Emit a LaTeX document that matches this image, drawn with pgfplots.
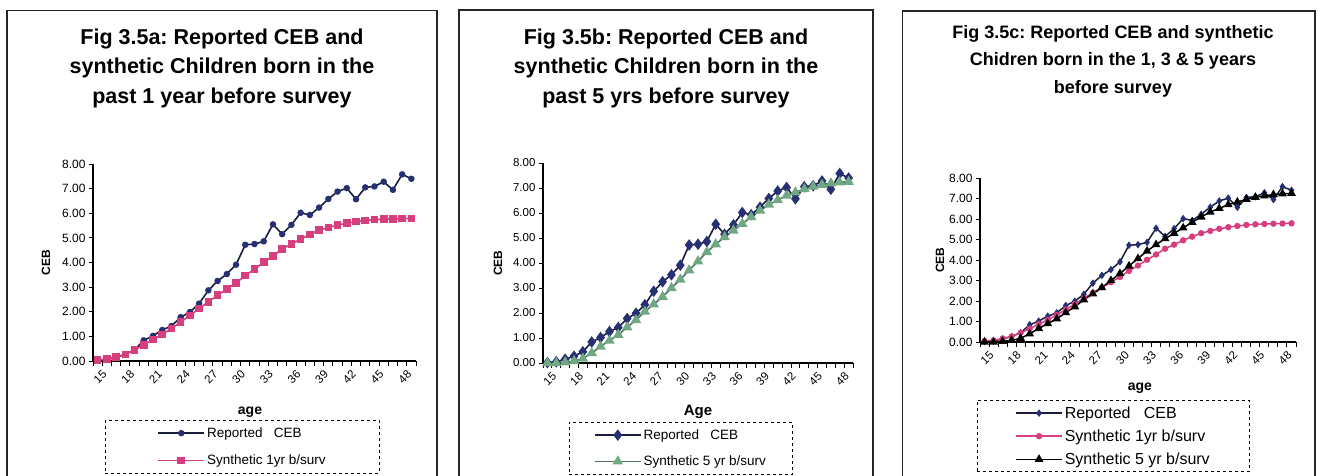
\documentclass[border=0pt]{standalone}
\usepackage{fontspec}
\setmainfont{Liberation Sans}
\usepackage{pgfplots}
\usepackage{pgfplotstable}
\pgfplotsset{compat=1.18}
\definecolor{navyc}{RGB}{38,48,115}
\definecolor{linec}{RGB}{25,30,60}
\definecolor{pinkc}{RGB}{214,62,125}
\definecolor{greenc}{RGB}{112,168,132}
\definecolor{greenl}{RGB}{85,115,100}

\pgfplotstableread{
age rep s1 s5
15 0.02 0.05 0.00
16 0.05 0.08 0.00
17 0.15 0.17 0.03
18 0.27 0.27 0.08
19 0.45 0.45 0.18
20 0.84 0.65 0.40
21 1.02 0.87 0.66
22 1.26 1.08 0.90
23 1.42 1.32 1.13
24 1.78 1.58 1.43
25 1.99 1.85 1.72
26 2.33 2.13 2.06
27 2.87 2.40 2.35
28 3.25 2.67 2.65
29 3.53 2.92 3.00
30 3.91 3.17 3.34
31 4.72 3.47 3.71
32 4.75 3.73 4.07
33 4.86 4.01 4.44
34 5.55 4.27 4.75
35 5.15 4.55 5.04
36 5.53 4.75 5.30
37 6.02 4.96 5.57
38 5.93 5.14 5.84
39 6.23 5.31 6.10
40 6.58 5.42 6.34
41 6.88 5.52 6.52
42 7.02 5.60 6.70
43 6.57 5.66 6.83
44 7.05 5.71 6.96
45 7.09 5.74 7.06
46 7.28 5.76 7.13
47 6.95 5.77 7.19
48 7.58 5.78 7.23
49 7.40 5.79 7.25
}\cebdata

\pgfplotsset{
  /pgf/number format/assume math mode=true,
  cebaxis/.style={
    scale only axis, anchor=south west,
    xmin=14.5, xmax=49.5, ymin=0, ymax=8,
    axis lines=left, axis line style={-, line width=1.1pt},
    xtick={15,18,...,48},
    major x tick style={draw=none},
    minor xtick={14.5,15.5,...,49.5},
    minor tick length=5pt,
    major tick length=4pt,
    tick align=outside,
    tick style={line width=1pt, black},
    ytick={0,1,...,8},
    yticklabel style={/pgf/number format/fixed, /pgf/number format/fixed zerofill, /pgf/number format/precision=2, font=\fontsize{12}{12}\selectfont},
    xticklabel style={rotate=45, anchor=north east, inner sep=1pt, yshift=-5pt, xshift=1pt, font=\fontsize{11.5}{11.5}\selectfont},
    legend cell align=left,
    legend image code/.code={\draw[mark repeat=2,mark phase=2] plot coordinates {(0pt,0pt) (23pt,0pt) (46pt,0pt)};},
  }
}

\begin{document}
\frenchspacing
\begin{tikzpicture}[x=1pt,y=1pt]
\useasboundingbox (0,0) rectangle (1320,475);
\draw[line width=1.1pt, black!85] (7,-5) -- (7,464.5) -- (437,464.5) -- (437,-5);
\draw[line width=1.1pt, black!85] (459,-5) -- (459,465) -- (873,465) -- (873,-5);
\draw[line width=1.1pt, black!85] (902.5,-5) -- (902.5,464) -- (1315,464) -- (1315,-5);

\node[font=\bfseries\fontsize{21.5}{29.5}\selectfont, align=center] at (222,407) {Fig 3.5a: Reported CEB and\\synthetic Children born in the\\past 1 year before survey};
\node[font=\bfseries\fontsize{21.5}{29.5}\selectfont, align=center] at (666,407) {Fig 3.5b: Reported CEB and\\synthetic Children born in the\\past 5 yrs before survey};
\node[font=\bfseries\fontsize{18}{27.5}\selectfont, align=center] at (1113,414) {Fig 3.5c: Reported CEB and synthetic\\Chidren born in the 1, 3 \& 5 years\\before survey};

% Panel a
\begin{axis}[cebaxis, at={(93pt,114pt)}, width=323pt, height=197pt,
  ylabel={CEB}, xlabel={age},
  ylabel style={at={(axis description cs:-0.1455,0.5)}, anchor=center, font=\bfseries\fontsize{12}{12}\selectfont},
  xlabel style={at={(axis description cs:0.486,-0.26)}, anchor=center, font=\bfseries\fontsize{14}{14}\selectfont},
  legend style={at={(axis description cs:0.463,-0.2995)}, anchor=north, draw=black, dashed, line width=1pt,
    inner xsep=52pt, inner ysep=5pt, row sep=12pt, font=\fontsize{13.5}{13.5}\selectfont},
]
\addplot[solid, color=linec, line width=1.6pt, mark=*, mark size=2.4pt, mark options={fill=navyc, draw=navyc}] table[x=age,y=rep] {\cebdata};
\addplot[solid, color=pinkc, line width=1.6pt, mark=square*, mark size=3pt, mark options={fill=pinkc, draw=pinkc}] table[x=age,y=s1] {\cebdata};
\legend{Reported\ \ \ CEB, Synthetic 1yr b/surv}
\end{axis}

% Panel b
\begin{axis}[cebaxis, at={(543pt,112pt)}, width=310pt, height=200pt,
  ylabel={CEB}, xlabel={Age},
  ylabel style={at={(axis description cs:-0.145,0.5)}, anchor=center, font=\bfseries\fontsize{12}{12}\selectfont},
  xlabel style={at={(axis description cs:0.5,-0.245)}, anchor=center, font=\bfseries\fontsize{15}{15}\selectfont},
  yticklabel style={font=\fontsize{11.5}{11.5}\selectfont},
  legend style={at={(axis description cs:0.445,-0.295)}, anchor=north, draw=black, dashed, line width=1pt,
    inner xsep=25pt, inner ysep=5pt, row sep=11pt, font=\fontsize{13.5}{13.5}\selectfont},
]
\addplot[solid, color=linec, line width=1.6pt, mark=diamond*, mark size=4.5pt, mark options={fill=navyc, draw=navyc}] table[x=age,y=rep] {\cebdata};
\addplot[solid, color=greenl, line width=1.6pt, mark=triangle*, mark size=4.5pt, mark options={fill=greenc, draw=greenc}] table[x=age,y=s5] {\cebdata};
\legend{Reported\ \ \ CEB, Synthetic 5 yr b/surv}
\end{axis}

% Panel c
\begin{axis}[cebaxis, at={(980pt,133pt)}, width=316pt, height=164pt,
  ylabel={CEB}, xlabel={age},
  ylabel style={at={(axis description cs:-0.127,0.5)}, anchor=center, font=\bfseries\fontsize{12}{12}\selectfont},
  xlabel style={at={(axis description cs:0.506,-0.28)}, anchor=center, font=\bfseries\fontsize{14}{14}\selectfont},
  legend style={at={(axis description cs:0.4225,-0.354)}, anchor=north, draw=black, dashed, line width=1pt,
    inner xsep=38pt, inner ysep=4pt, row sep=6pt, font=\fontsize{16}{16}\selectfont},
]
\addplot[solid, color=linec, line width=1.5pt, mark=diamond*, mark size=2.6pt, mark options={fill=navyc, draw=navyc}] table[x=age,y=rep] {\cebdata};
\addplot[solid, color=pinkc, line width=1.5pt, mark=*, mark size=2.4pt, mark options={fill=pinkc, draw=pinkc}] table[x=age,y=s1] {\cebdata};
\addplot[solid, color=black, line width=1.5pt, mark=triangle*, mark size=3.6pt, mark options={fill=black, draw=black}] table[x=age,y=s5] {\cebdata};
\legend{Reported\ \ \ CEB, Synthetic 1yr b/surv, Synthetic 5 yr b/surv}
\end{axis}
\end{tikzpicture}
\end{document}
